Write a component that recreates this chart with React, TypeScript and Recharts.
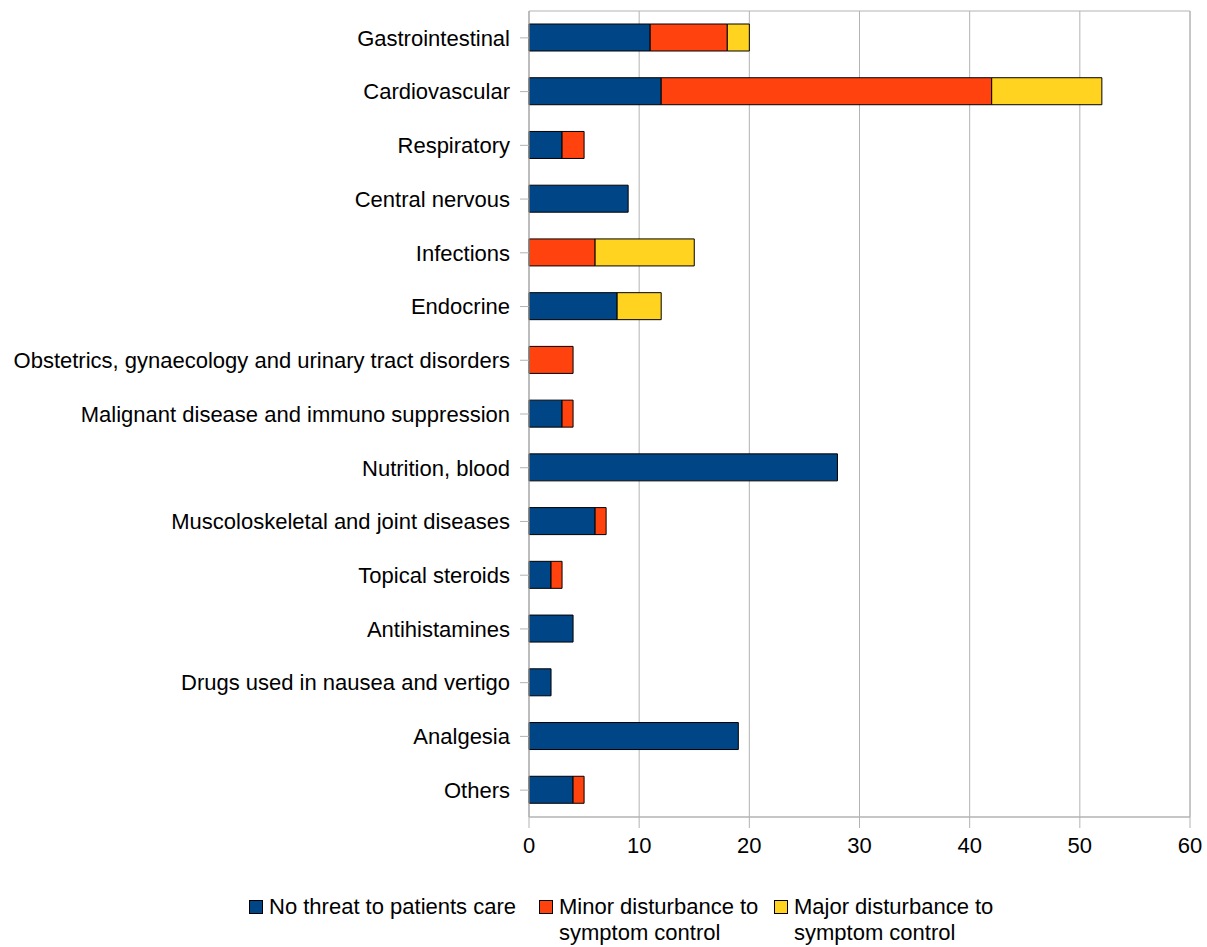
import React from 'react';
import { BarChart, Bar, XAxis, YAxis, CartesianGrid, ReferenceArea } from 'recharts';

const categories = [
  'Gastrointestinal',
  'Cardiovascular',
  'Respiratory',
  'Central nervous',
  'Infections',
  'Endocrine',
  'Obstetrics, gynaecology and urinary tract disorders',
  'Malignant disease and immuno suppression',
  'Nutrition, blood',
  'Muscoloskeletal and joint diseases',
  'Topical steroids',
  'Antihistamines',
  'Drugs used in nausea and vertigo',
  'Analgesia',
  'Others',
];

const noThreat = [11, 12, 3, 9, 0, 8, 0, 3, 28, 6, 2, 4, 2, 19, 4];
const minorDisturbance = [7, 30, 2, 0, 6, 0, 4, 1, 0, 1, 1, 0, 0, 0, 1];
const majorDisturbance = [2, 10, 0, 0, 9, 4, 0, 0, 0, 0, 0, 0, 0, 0, 0];

const xTicks = [0, 10, 20, 30, 40, 50, 60];

const series = [
  { key: 'noThreat', lines: ['No threat to patients care'], color: '#004586' },
  { key: 'minor', lines: ['Minor disturbance to', 'symptom control'], color: '#ff420e' },
  { key: 'major', lines: ['Major disturbance to', 'symptom control'], color: '#ffd320' },
];

const data = categories.map((name, i) => ({
  name,
  noThreat: noThreat[i],
  minor: minorDisturbance[i],
  major: majorDisturbance[i],
}));

const FONT = '"Liberation Sans", Arial, sans-serif';
const GRID = '#b3b3b3';

// legend item offsets inside the page box
const legendLeft = [249, 539, 774];

export default function App() {
  return (
    <div style={{ position: 'relative', width: 1207, height: 947, fontFamily: FONT, overflow: 'hidden' }}>
      <style>{'body{margin:0}'}</style>
      <BarChart
        width={1207}
        height={868}
        data={data}
        layout="vertical"
        margin={{ top: 11, right: 17, bottom: 11, left: 8 }}
        barSize={27}
      >
        <CartesianGrid horizontal={false} stroke={GRID} />
        <ReferenceArea x1={0} x2={60} fill="none" stroke={GRID} ifOverflow="visible" />
        <XAxis
          type="number"
          domain={[0, 60]}
          ticks={xTicks}
          height={40}
          tickSize={11}
          tickMargin={9}
          stroke={GRID}
          tick={{ fill: '#000', fontSize: 22, fontFamily: FONT }}
        />
        <YAxis
          type="category"
          dataKey="name"
          width={521}
          tickSize={9}
          tickMargin={10}
          stroke={GRID}
          interval={0}
          tick={{ fill: '#000', fontSize: 22, fontFamily: FONT }}
        />
        {series.map((s) => (
          <Bar
            key={s.key}
            dataKey={s.key}
            stackId="a"
            fill={s.color}
            stroke="#000"
            strokeWidth={1}
            isAnimationActive={false}
          />
        ))}
      </BarChart>
      {series.map((s, i) => (
        <div
          key={s.key}
          style={{ position: 'absolute', left: legendLeft[i], top: 894, display: 'flex', alignItems: 'flex-start' }}
        >
          <div
            style={{
              width: 12,
              height: 12,
              marginTop: 6,
              background: s.color,
              border: '1px solid #000',
              marginRight: 6,
            }}
          />
          <div style={{ fontSize: 22, lineHeight: '26px', color: '#000', whiteSpace: 'nowrap' }}>
            {s.lines.map((l) => (
              <div key={l}>{l}</div>
            ))}
          </div>
        </div>
      ))}
    </div>
  );
}
